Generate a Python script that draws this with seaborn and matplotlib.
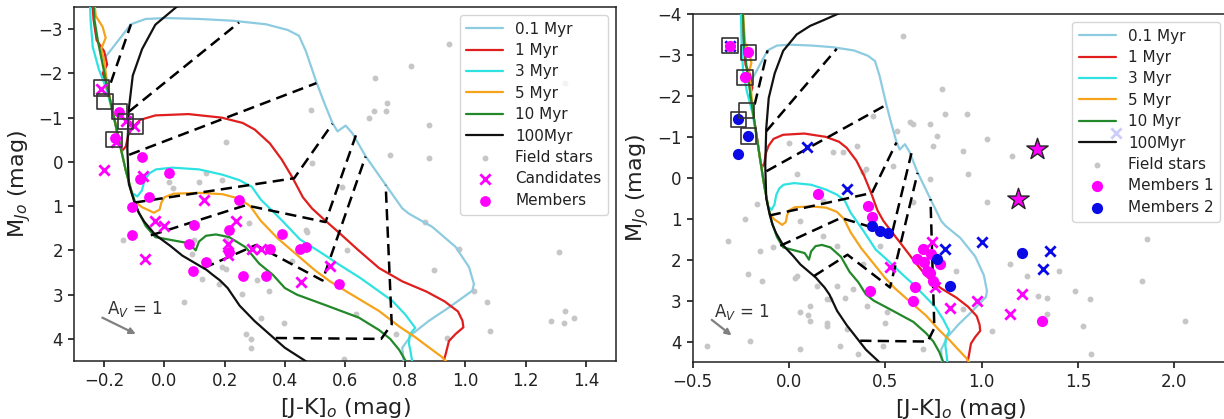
import matplotlib
matplotlib.use("Agg")
import matplotlib.pyplot as plt
import seaborn as sns

# ---------------- isochrones: [J-K]o vs M_Jo ----------------
ISO_LABELS = ["0.1 Myr", "1 Myr", "3 Myr", "5 Myr", "10 Myr", "100Myr"]
ISO_COLORS = ["#8ccbe0", "#e01e1e", "#2fe2e2", "#f5a31a", "#23882a", "#111111"]

ISO_01_X = [-0.205, -0.183, -0.15, -0.111, -0.062, 0.005, 0.115, 0.226, 0.337, 0.41, 0.447, 0.47,
            0.49, 0.505, 0.53, 0.558, 0.575, 0.602, 0.624, 0.669, 0.735, 0.79, 0.812, 0.89, 0.967,
            1.012, 1.028, 1.023, 0.945, 0.879, 0.823, 0.79, 0.796]
ISO_01_Y = [-2.3, -2.48, -2.77, -3.11, -3.23, -3.25, -3.23, -3.19, -3.11, -2.98, -2.85, -2.5,
            -2.1, -1.8, -1.35, -0.88, -0.69, -0.82, -0.65, -0.12, 0.52, 1.05, 1.17, 1.47, 1.92,
            2.38, 2.76, 2.91, 3.29, 3.59, 3.89, 4.2, 4.6]

ISO_1_X = [-0.245, -0.235, -0.225, -0.2, -0.19, -0.205, -0.19, -0.167, -0.148, -0.14, -0.128,
           -0.12, -0.106, -0.08, -0.03, 0.08, 0.19, 0.26, 0.30, 0.35, 0.39, 0.425, 0.46, 0.49,
           0.53, 0.58, 0.64, 0.713, 0.79, 0.87, 0.93, 0.975, 0.99, 0.993, 0.967, 0.945, 0.934, 0.923]
ISO_1_Y = [-4.1, -3.2, -2.75, -2.5, -2.2, -2.0, -1.7, -1.0, -0.4, -0.25, -0.35,
           -0.6, -0.78, -0.95, -1.05, -1.08, -1.0, -0.88, -0.73, -0.42, -0.05, 0.35, 0.8, 1.05,
           1.3, 1.6, 1.97, 2.4, 2.7, 2.93, 3.15, 3.38, 3.59, 3.74, 3.89, 4.05, 4.35, 4.6]

ISO_3_X = [-0.25, -0.245, -0.238, -0.218, -0.19, -0.168, -0.148, -0.128, -0.108, -0.09, -0.075,
           -0.066, -0.05, -0.028, 0.027, 0.115, 0.193, 0.248, 0.29, 0.32, 0.39, 0.45, 0.52, 0.58,
           0.65, 0.757, 0.80, 0.833, 0.815, 0.812, 0.818, 0.825]
ISO_3_Y = [-4.1, -3.2, -2.6, -2.1, -1.6, -1.0, -0.4, 0.2, 0.7, 0.78, 0.65,
           0.42, 0.26, 0.17, 0.13, 0.17, 0.29, 0.41, 0.56, 0.85, 1.32, 1.75, 2.05, 2.32,
           2.62, 3.14, 3.45, 3.75, 3.9, 4.1, 4.3, 4.6]

ISO_5_X = [-0.24, -0.228, -0.205, -0.195, -0.21, -0.2, -0.187, -0.167, -0.148, -0.128, -0.108,
           -0.098, -0.075, -0.05, -0.035, -0.016, -0.01, 0.0, 0.03, 0.115, 0.193, 0.248, 0.285,
           0.32, 0.375, 0.44, 0.50, 0.55, 0.61, 0.713, 0.78, 0.835, 0.87, 0.92, 0.95]
ISO_5_Y = [-4.1, -3.3, -3.05, -2.8, -2.55, -2.3, -1.6, -1.0, -0.4, 0.2, 0.7,
           0.9, 1.02, 1.1, 1.15, 1.08, 0.92, 0.8, 0.72, 0.70, 0.73, 0.83, 1.0,
           1.33, 1.72, 2.1, 2.45, 2.7, 2.95, 3.37, 3.72, 3.97, 4.15, 4.4, 4.6]

ISO_10_X = [-0.24, -0.232, -0.22, -0.205, -0.187, -0.167, -0.148, -0.128, -0.108, -0.088,
            -0.062, -0.03, 0.026, 0.082, 0.104, 0.115, 0.138, 0.171, 0.215, 0.27, 0.315, 0.36,
            0.40, 0.44, 0.54, 0.646, 0.713, 0.75, 0.78, 0.81]
ISO_10_Y = [-4.1, -3.2, -2.7, -2.2, -1.6, -1.0, -0.4, 0.2, 0.7, 1.1,
            1.45, 1.70, 1.77, 1.84, 2.0, 1.80, 1.67, 1.64, 1.70, 1.93, 2.3, 2.55,
            2.85, 3.0, 3.25, 3.52, 3.8, 4.0, 4.25, 4.6]

ISO_100_X = [0.30, 0.18, 0.11, 0.04, -0.03, -0.074, -0.105, -0.118, -0.123, -0.118, -0.10,
             -0.085, -0.067, -0.03, 0.02, 0.06, 0.10, 0.14, 0.16, 0.185, 0.21, 0.23, 0.25,
             0.30, 0.35, 0.40, 0.48, 0.52]
ISO_100_Y = [-4.1, -3.85, -3.71, -3.5, -3.1, -2.55, -1.95, -1.2, -0.3, 0.5, 0.9,
             1.15, 1.35, 1.65, 1.9, 2.12, 2.28, 2.44, 2.55, 2.68, 2.85, 3.05, 3.25,
             3.6, 3.9, 4.2, 4.55, 4.7]

ISO_X = [ISO_01_X, ISO_1_X, ISO_3_X, ISO_5_X, ISO_10_X, ISO_100_X]
ISO_Y = [ISO_01_Y, ISO_1_Y, ISO_3_Y, ISO_5_Y, ISO_10_Y, ISO_100_Y]

# equal-mass tracks joining the isochrones (dashed)
TRACKS_X = [[-0.178, -0.111],
            [-0.117, 0.248],
            [-0.117, 0.505],
            [-0.10, 0.431, 0.558],
            [-0.045, 0.27, 0.535, 0.636],
            [0.13, 0.304, 0.525, 0.668],
            [0.37, 0.72, 0.755, 0.735]]
TRACKS_Y = [[-1.79, -3.11],
            [-1.14, -3.15],
            [-0.16, -1.78],
            [0.92, 0.37, -0.86],
            [1.66, 0.98, 1.36, -0.6],
            [2.4, 1.88, 2.68, -0.12],
            [3.98, 4.0, 3.67, 0.52]]

# ---------------- left panel stars ----------------
L_FIELD_X = [0.945, 0.818, 0.70, 0.696, 0.74, 0.68, 0.735, 0.879, 0.75, 0.879, 0.486, 0.49,
             0.59, 1.33, 0.204, 0.138, 0.193, 0.115, 0.016, 0.027, 0.281, 0.204, 0.093, -0.139,
             0.126, 0.259, 0.348, 0.47, 0.425, 0.193, 0.066, 0.204, 0.182, 0.309, 0.32, 0.398,
             0.27, 0.287, 0.287, 0.099, 0.867, 0.978, 0.895, 1.028, 1.072, 1.083, 0.94, 0.636,
             0.768, 0.597, 1.31, 1.283, 1.327, 1.36, 1.332, 0.475, 0.608]
L_FIELD_Y = [-2.66, -2.17, -1.90, -1.14, -1.33, -1.0, -1.14, -0.84, -0.16, -0.08, -1.18, 0.03,
             0.56, -1.79, -0.46, 0.26, 0.41, 0.45, 0.45, 0.6, 1.39, 1.77, 2.08, 1.77,
             2.64, 2.98, 2.91, 1.55, 2.23, 2.38, 3.17, 2.42, 2.76, 2.68, 3.52, 3.63,
             3.89, 4.0, 4.2, 1.77, 1.36, 1.96, 2.45, 2.91, 3.17, 3.82, 3.97, 3.44,
             3.89, 4.46, 2.04, 3.59, 3.63, 3.52, 3.36, 1.58, 2.0]

L_CAND_X = [-0.20, -0.07, 0.13, -0.03, 0.0, 0.237, 0.21, 0.21, 0.29, 0.32, -0.065, 0.455,
            0.55, -0.21, -0.128, -0.10, -0.16]
L_CAND_Y = [0.18, 0.32, 0.86, 1.34, 1.45, 1.33, 1.85, 2.1, 1.96, 1.96, 2.19, 2.72,
            2.36, -1.65, -0.92, -0.8, -0.45]

L_MEMB_X = [-0.15, -0.165, -0.073, -0.08, 0.016, -0.05, -0.107, 0.248, 0.099, 0.215, -0.106,
            0.082, 0.215, 0.35, 0.39, 0.138, 0.095, 0.262, 0.337, 0.45, 0.47, 0.58]
L_MEMB_Y = [-1.12, -0.55, -0.1, 0.38, 0.26, 0.79, 1.02, 0.86, 1.43, 1.55, 1.66,
            1.85, 2.04, 1.96, 1.64, 2.27, 2.47, 2.57, 2.57, 1.97, 1.92, 2.76]

L_BOX_X = [-0.21, -0.197, -0.15, -0.128, -0.095, -0.167]
L_BOX_Y = [-1.67, -1.37, -1.14, -0.92, -0.80, -0.5]

# ---------------- right panel stars ----------------
R_FIELD_X = [0.81, 0.628, 0.732, 0.767, 0.75, 0.56, 0.351, 0.23, 0.0, 0.04, 0.40, 0.732, 0.645,
             0.178, -0.168, -0.228, -0.315, -0.15, 0.178, 0.248, 0.472, -0.211, -0.142, 0.04,
             0.144, 0.334, 0.196, 0.109, 0.057, 0.196, 0.403, 0.507, -0.427, -0.202, -0.081,
             0.057, 0.10, 0.109, 0.196, 0.265, 0.36, 0.30, 0.49, 0.057, 0.031, 0.248, 0.213,
             0.29, 0.50, 0.386, 1.026, 1.147, 1.234, 1.40, 1.294, 1.338, 1.485, 1.563, 1.528,
             1.571, 1.338, 1.052, 0.87, 0.905, 1.857, 1.831, 2.056, 0.698, 0.793, 0.923, 0.645,
             0.905, 1.026, 1.156, 0.931, 0.594, 0.438, 0.282, 0.386, 0.542]
R_FIELD_Y = [-1.55, -1.35, -1.31, -1.02, -0.78, -1.15, -0.78, -0.62, -0.86, -0.09, -0.21, 0.03, 0.60,
             0.56, 0.65, 1.01, 1.54, 1.79, 1.42, 1.66, 1.66, 2.36, 2.52, 2.40,
             2.64, 2.72, 2.97, 3.13, 3.29, 3.54, 3.13, 3.29, 4.11, 3.99, 1.70,
             4.19, 3.35, 3.5, 3.62, 4.11, 4.31, 3.70, 4.11, 1.05, 2.44, 2.64, 2.97,
             2.93, 3.54, 2.11, 0.60, 2.11, 2.40, 2.28, 2.89, 2.93, 2.77, 2.97, 3.62,
             4.31, 3.33, 3.74, 2.28, 3.21, 1.50, 2.52, 3.50, 4.19, -2.17, -1.55, -1.31,
             -0.66, -0.94, -0.54, -0.09, -3.47, -1.51, -0.62, -0.13, -0.29]

R_MEMB1_X = [0.152, 0.412, 0.429, 0.663, 0.697, 0.715, 0.784, 0.732, 0.654, 0.75, 0.645, 0.42,
             1.312, -0.211, -0.228, -0.306, 0.70, 0.735]
R_MEMB1_Y = [0.40, 0.69, 0.97, 1.99, 1.75, 2.28, 2.11, 2.32, 2.68, 2.52, 3.01, 2.77,
             3.50, -3.06, -2.45, -3.23, 2.05, 1.85]

R_STAR_X = [1.286, 1.19]
R_STAR_Y = [-0.70, 0.52]

R_MEMB2_X = [0.429, 0.472, 0.516, 0.767, 0.836, -0.263, -0.211, -0.263, 1.208]
R_MEMB2_Y = [1.18, 1.30, 1.34, 1.99, 2.64, -1.43, -1.02, -0.58, 1.83]

R_CAND1_X = [0.524, 0.741, 0.758, 0.836, 0.975, 1.208, 1.147]
R_CAND1_Y = [2.19, 1.58, 2.68, 3.17, 3.01, 2.85, 3.33]

R_CAND2_X = [0.092, 0.30, 0.81, 1.0, 1.355, 1.32, 1.70, -0.306]
R_CAND2_Y = [-0.74, 0.28, 1.75, 1.58, 1.79, 2.23, -1.1, -3.23]

R_BOX_X = [-0.306, -0.211, -0.228, -0.22, -0.263, -0.211]
R_BOX_Y = [-3.23, -3.06, -2.45, -1.64, -1.43, -1.02]

MAGENTA = "#ff00ff"
BLUE = "#0a0ae6"
FIELD = "#c6c6c6"

sns.set_theme(style="ticks")
plt.rcParams.update({
    "font.family": ["DejaVu Sans"],
    "xtick.labelsize": 12, "ytick.labelsize": 12,
    "axes.labelsize": 16,
    "axes.edgecolor": "#222222", "axes.linewidth": 1.1,
    "xtick.major.size": 4.5, "ytick.major.size": 4.5,
    "xtick.color": "#222222", "ytick.color": "#222222",
    "text.color": "#222222", "axes.labelcolor": "#222222",
})

fig = plt.figure(figsize=(12.24, 4.19), dpi=100)
ax_l = fig.add_axes([0.0605, 0.1384, 0.4428, 0.8449])
ax_r = fig.add_axes([0.5659, 0.1360, 0.4374, 0.8306])


def draw_isochrones(ax):
    for xs, ys, lab, col in zip(ISO_X, ISO_Y, ISO_LABELS, ISO_COLORS):
        sns.lineplot(x=xs, y=ys, sort=False, estimator=None, color=col, lw=1.6,
                     label=lab, ax=ax, zorder=3, legend=False)
    for xs, ys in zip(TRACKS_X, TRACKS_Y):
        sns.lineplot(x=xs, y=ys, sort=False, estimator=None, color="black", lw=1.8,
                     linestyle=(0, (4.5, 2.5)), ax=ax, zorder=3, legend=False)


def field(ax, xs, ys):
    sns.scatterplot(x=xs, y=ys, color=FIELD, s=18, linewidth=0, label="Field stars",
                    ax=ax, zorder=2, legend=False)


def reddening(ax, x0, y0, x1, y1, tx, ty):
    ax.annotate("", xy=(x1, y1), xytext=(x0, y0),
                arrowprops=dict(arrowstyle="-|>", color="#808080", lw=1.6,
                                mutation_scale=9, shrinkA=0, shrinkB=0))
    ax.text(tx, ty, r"A$_V$ = 1", fontsize=12, color="#333333", va="baseline", ha="left")


# ---------- left panel ----------
field(ax_l, L_FIELD_X, L_FIELD_Y)
draw_isochrones(ax_l)
sns.scatterplot(x=L_CAND_X, y=L_CAND_Y, color=MAGENTA, marker="x", s=55, linewidth=2,
                label="Candidates", ax=ax_l, zorder=4, legend=False)
sns.scatterplot(x=L_MEMB_X, y=L_MEMB_Y, color=MAGENTA, s=60, linewidth=0,
                label="Members", ax=ax_l, zorder=4, legend=False)
sns.scatterplot(x=L_BOX_X, y=L_BOX_Y, marker="s", s=120, facecolor="none",
                edgecolor="#333333", linewidth=1.2, ax=ax_l, zorder=5, legend=False)
reddening(ax_l, -0.206, 3.52, -0.095, 3.89, -0.19, 3.43)

ax_l.set_xlim(-0.3, 1.5)
ax_l.set_ylim(4.5, -3.5)
ax_l.set_xlabel(r"[J-K]$_o$ (mag)")
ax_l.set_ylabel(r"M$_{Jo}$ (mag)")

# ---------- right panel ----------
field(ax_r, R_FIELD_X, R_FIELD_Y)
draw_isochrones(ax_r)
sns.scatterplot(x=R_CAND1_X, y=R_CAND1_Y, color=MAGENTA, marker="x", s=55, linewidth=2,
                ax=ax_r, zorder=4, legend=False)
sns.scatterplot(x=R_CAND2_X, y=R_CAND2_Y, color=BLUE, marker="x", s=55, linewidth=2,
                ax=ax_r, zorder=4, legend=False)
sns.scatterplot(x=R_MEMB1_X, y=R_MEMB1_Y, color=MAGENTA, s=65, linewidth=0,
                label="Members 1", ax=ax_r, zorder=4, legend=False)
sns.scatterplot(x=R_MEMB2_X, y=R_MEMB2_Y, color=BLUE, s=65, linewidth=0,
                label="Members 2", ax=ax_r, zorder=4, legend=False)
sns.scatterplot(x=R_STAR_X, y=R_STAR_Y, color=MAGENTA, marker="*", s=260,
                edgecolor="#222222", linewidth=1.0, ax=ax_r, zorder=5, legend=False)
sns.scatterplot(x=R_BOX_X, y=R_BOX_Y, marker="s", s=120, facecolor="none",
                edgecolor="#333333", linewidth=1.2, ax=ax_r, zorder=5, legend=False)
reddening(ax_r, -0.401, 3.47, -0.298, 3.85, -0.389, 3.39)

ax_r.set_xlim(-0.5, 2.28)
ax_r.set_ylim(4.5, -4.0)
ax_r.set_xlabel(r"[J-K]$_o$ (mag)")
ax_r.set_ylabel(r"M$_{Jo}$ (mag)")


def ordered_legend(ax, order):
    handles, labels = ax.get_legend_handles_labels()
    lookup = dict(zip(labels, handles))
    leg = ax.legend([lookup[k] for k in order], order, loc="upper right", fontsize=11,
                    labelspacing=0.42, handlelength=2.4, borderpad=0.45,
                    framealpha=0.8, edgecolor="0.8", fancybox=True)
    leg.set_zorder(10)


ordered_legend(ax_l, ISO_LABELS + ["Field stars", "Candidates", "Members"])
ordered_legend(ax_r, ISO_LABELS + ["Field stars", "Members 1", "Members 2"])

fig.savefig("out.png", dpi=100)
